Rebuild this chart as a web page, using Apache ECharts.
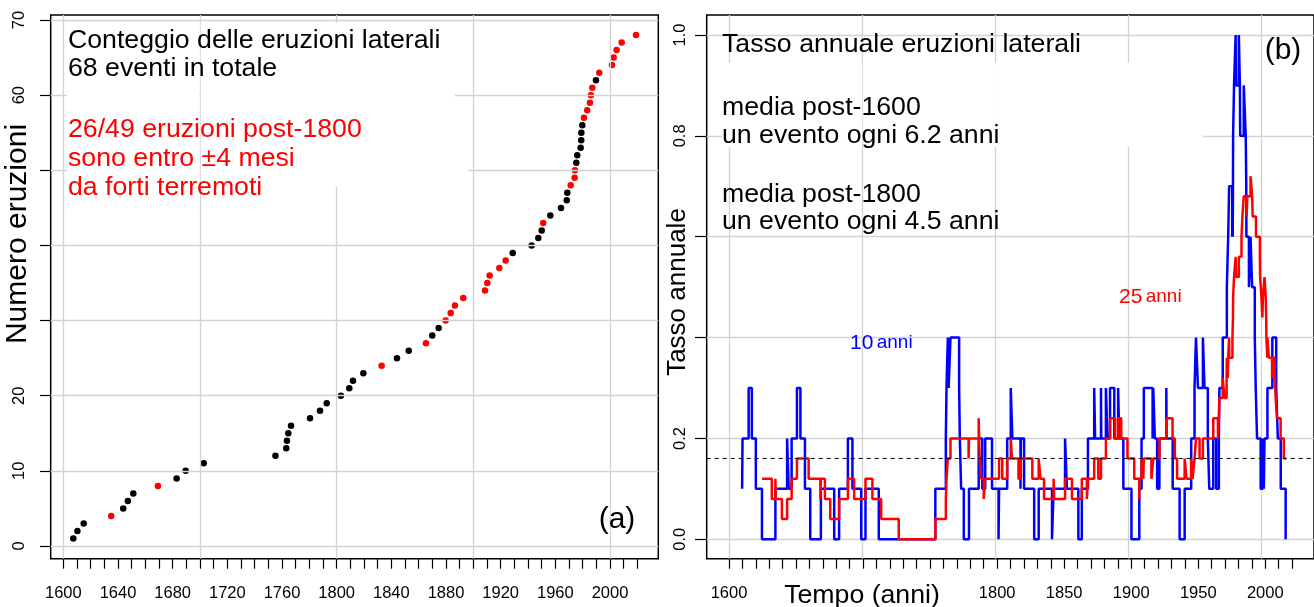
<!DOCTYPE html>
<html>
<head>
<meta charset="utf-8">
<script src="https://cdn.jsdelivr.net/npm/echarts@6/dist/echarts.min.js"></script>
<style>
  html, body { margin: 0; padding: 0; background: #fff; }
  #main { width: 1314px; height: 607px; }
</style>
</head>
<body>
<div id="main"></div>
<script>
// (a) anno di ogni eruzione laterale, in ordine (conteggio cumulativo = posizione)
const eventYears = [1607.3, 1610.3, 1614.9, 1635.0, 1643.8, 1647.2, 1651.2, 1669.2, 1682.9, 1689.5,
  1702.7, 1755.2, 1763.1, 1763.6, 1764.6, 1766.6, 1780.5, 1787.8, 1792.7, 1803.1,
  1809.2, 1811.9, 1819.5, 1832.9, 1844.1, 1852.7, 1865.3, 1869.9, 1874.6, 1879.7,
  1883.4, 1886.5, 1892.6, 1908.5, 1910.2, 1911.9, 1919.0, 1923.6, 1928.8, 1942.6,
  1947.5, 1950.0, 1951.1, 1956.3, 1964.1, 1968.3, 1968.7, 1971.2, 1974.1, 1974.3,
  1975.3, 1976.0, 1978.5, 1978.9, 1979.0, 1979.7, 1980.9, 1983.3, 1985.3, 1986.0,
  1987.0, 1989.7, 1992.1, 2001.4, 2002.6, 2004.8, 2008.5, 2019.0]
// 1 = entro ±4 mesi da un forte terremoto (rosso)
const nearQuake = [0, 0, 0, 1, 0, 0, 0, 1, 0, 0,
  0, 0, 0, 0, 0, 0, 0, 0, 0, 0,
  0, 0, 0, 1, 0, 0, 1, 0, 0, 1,
  1, 1, 1, 1, 1, 1, 1, 1, 0, 0,
  0, 0, 1, 0, 0, 0, 0, 1, 1, 1,
  0, 0, 0, 0, 0, 0, 1, 1, 1, 1,
  1, 0, 1, 1, 1, 1, 1, 1]

// (b) tasso annuale, finestra 10 anni (blu) e 25 anni (rosso), a gradini
const blueYears = [1610.0, 1610.3, 1614.9, 1617.3, 1620.3, 1624.9, 1635.0, 1643.8, 1645.0, 1647.2,
  1651.2, 1653.8, 1657.2, 1661.2, 1669.2, 1679.2, 1682.9, 1689.5, 1692.9, 1699.5,
  1702.7, 1712.7, 1755.2, 1763.1, 1763.6, 1764.6, 1765.2, 1766.6, 1773.1, 1773.6,
  1774.6, 1776.6, 1780.5, 1787.8, 1790.5, 1792.7, 1797.8, 1802.7, 1803.1, 1809.2,
  1811.9, 1813.1, 1819.2, 1819.5, 1821.9, 1829.5, 1832.9, 1842.9, 1844.1, 1852.7,
  1854.1, 1862.7, 1865.3, 1869.9, 1874.6, 1875.3, 1879.7, 1879.9, 1883.4, 1884.6,
  1886.5, 1889.7, 1892.6, 1893.4, 1896.5, 1902.6, 1908.5, 1910.2, 1911.9, 1918.5,
  1919.0, 1920.2, 1921.9, 1923.6, 1928.8, 1929.0, 1933.6, 1938.8, 1942.6, 1947.5,
  1950.0, 1951.1, 1952.6, 1956.3, 1957.5, 1960.0, 1961.1, 1964.1, 1966.3, 1968.3,
  1968.7, 1971.2, 1974.3, 1975.3, 1976.0, 1978.3, 1978.5, 1978.7, 1978.9, 1979.0,
  1979.7, 1980.9, 1981.2, 1983.3, 1984.1, 1984.3, 1987.0, 1988.5, 1988.9, 1989.0,
  1990.9, 1992.1, 1993.3, 1995.3, 1996.0, 1997.0, 1999.7, 2001.4, 2002.1, 2002.6,
  2004.8, 2008.5, 2011.4, 2012.6, 2014.8, 2018.5, 2019.0]
const blueRates = [0.1, 0.2, 0.3, 0.2, 0.1, 0.0, 0.1, 0.2, 0.1, 0.2,
  0.3, 0.2, 0.1, 0.0, 0.1, 0.0, 0.1, 0.2, 0.1, 0.0,
  0.1, 0.0, 0.1, 0.2, 0.3, 0.4, 0.3, 0.4, 0.3, 0.2,
  0.1, 0.0, 0.1, 0.2, 0.1, 0.2, 0.1, 0.0, 0.1, 0.2,
  0.3, 0.2, 0.1, 0.2, 0.1, 0.0, 0.1, 0.0, 0.1, 0.2,
  0.1, 0.0, 0.1, 0.2, 0.3, 0.2, 0.3, 0.2, 0.3, 0.2,
  0.3, 0.2, 0.3, 0.2, 0.1, 0.0, 0.1, 0.2, 0.3, 0.2,
  0.3, 0.2, 0.1, 0.2, 0.3, 0.2, 0.1, 0.0, 0.1, 0.2,
  0.3, 0.4, 0.3, 0.4, 0.3, 0.2, 0.1, 0.2, 0.1, 0.2,
  0.3, 0.4, 0.5, 0.6, 0.7, 0.6, 0.7, 0.6, 0.7, 0.8,
  0.9, 1.0, 0.9, 1.0, 0.9, 0.8, 0.9, 0.8, 0.7, 0.6,
  0.5, 0.6, 0.5, 0.4, 0.3, 0.2, 0.1, 0.2, 0.1, 0.2,
  0.3, 0.4, 0.3, 0.2, 0.1, 0.0, 0.0]
const redYears = [1625.0, 1632.3, 1635.0, 1635.3, 1639.9, 1643.8, 1647.2, 1651.2, 1660.0, 1668.8,
  1669.2, 1672.2, 1676.2, 1682.9, 1689.5, 1694.2, 1702.7, 1707.9, 1714.5, 1727.7,
  1755.2, 1763.1, 1763.6, 1764.6, 1766.6, 1780.2, 1780.5, 1787.8, 1788.1, 1788.6,
  1789.6, 1791.6, 1792.7, 1803.1, 1805.5, 1809.2, 1811.9, 1812.8, 1817.7, 1819.5,
  1828.1, 1832.9, 1834.2, 1836.9, 1844.1, 1844.5, 1852.7, 1857.9, 1865.3, 1869.1,
  1869.9, 1874.6, 1877.7, 1879.7, 1883.4, 1886.5, 1890.3, 1892.6, 1894.9, 1899.6,
  1904.7, 1908.4, 1908.5, 1910.2, 1911.5, 1911.9, 1917.6, 1919.0, 1923.6, 1928.8,
  1933.5, 1935.2, 1936.9, 1942.6, 1944.0, 1947.5, 1948.6, 1950.0, 1951.1, 1953.8,
  1956.3, 1964.1, 1967.6, 1968.3, 1968.7, 1971.2, 1972.5, 1974.1, 1974.3, 1975.0,
  1975.3, 1976.0, 1976.1, 1978.5, 1978.9, 1979.0, 1979.7, 1980.9, 1981.3, 1983.3,
  1985.3, 1986.0, 1987.0, 1989.1, 1989.7, 1992.1, 1993.3, 1993.7, 1996.2, 1999.1,
  1999.3, 2000.3, 2001.0, 2001.4, 2002.6, 2003.5, 2003.9, 2004.0, 2004.7, 2004.8,
  2005.9, 2008.3, 2008.5, 2010.3, 2011.0, 2012.0, 2014.7, 2017.1, 2019.0]
const redRates = [0.12, 0.08, 0.12, 0.08, 0.04, 0.08, 0.12, 0.16, 0.12, 0.08,
  0.12, 0.08, 0.04, 0.08, 0.12, 0.08, 0.12, 0.08, 0.04, 0.00,
  0.04, 0.08, 0.12, 0.16, 0.20, 0.16, 0.20, 0.24, 0.20, 0.16,
  0.12, 0.08, 0.12, 0.16, 0.12, 0.16, 0.20, 0.16, 0.12, 0.16,
  0.12, 0.16, 0.12, 0.08, 0.12, 0.08, 0.12, 0.08, 0.12, 0.08,
  0.12, 0.16, 0.12, 0.16, 0.20, 0.24, 0.20, 0.24, 0.20, 0.16,
  0.12, 0.08, 0.12, 0.16, 0.12, 0.16, 0.12, 0.16, 0.20, 0.24,
  0.20, 0.16, 0.12, 0.16, 0.12, 0.16, 0.12, 0.16, 0.20, 0.16,
  0.20, 0.24, 0.20, 0.24, 0.28, 0.32, 0.28, 0.32, 0.36, 0.32,
  0.36, 0.40, 0.36, 0.40, 0.44, 0.48, 0.52, 0.56, 0.52, 0.56,
  0.60, 0.64, 0.68, 0.64, 0.68, 0.72, 0.68, 0.64, 0.60, 0.56,
  0.52, 0.48, 0.44, 0.48, 0.52, 0.48, 0.44, 0.40, 0.36, 0.40,
  0.36, 0.32, 0.36, 0.32, 0.28, 0.24, 0.20, 0.16, 0.16]
const meanRate = 0.161   // un evento ogni 6.2 anni

// griglie e etichette degli assi
const leftGridX = [1600, 1700, 1800, 1900, 2000]
const leftGridY = [0, 10, 20, 30, 40, 50, 60, 70]
const leftXLabels = [1600, 1640, 1680, 1720, 1760, 1800, 1840, 1880, 1920, 1960, 2000]
const leftYLabels = [0, 10, 20, 60, 70]
const rightGridX = [1600, 1700, 1800, 1900, 2000]
const rightGridY = [0, 0.2, 0.4, 0.6, 0.8, 1.0]
const rightXLabels = [1600, 1800, 1850, 1900, 1950, 2000]
const rightYLabels = ['0.0', '0.2', '0.8', '1.0']

const FONT = 'Liberation Sans, Arial, sans-serif'
const GRID_COLOR = '#d3d3d3'

let blackPts = []
let redPts = []
eventYears.forEach(function (y, i) {
  if (nearQuake[i]) redPts.push([y, i + 1])
  else blackPts.push([y, i + 1])
})
const blueData = blueYears.map(function (t, i) { return [t, blueRates[i]] })
const redData = redYears.map(function (t, i) { return [t, redRates[i]] })

function tickAxisX(grid, labels) {
  return {
    type: 'value', gridIndex: grid, min: 1600, max: 2020, interval: 10,
    axisLine: { show: false },
    axisTick: { show: true, length: 10, lineStyle: { color: '#000', width: 1.2 } },
    axisLabel: {
      margin: 26, color: '#000', fontSize: 16.5, fontFamily: FONT,
      formatter: function (v) { return labels.indexOf(v) >= 0 ? String(v) : '' }
    },
    splitLine: { show: false }
  }
}
function hiddenAxis(grid, min, max) {
  return { type: 'value', gridIndex: grid, min: min, max: max, show: false, splitLine: { show: false } }
}
function text(x, y, str, size, color, extra) {
  return {
    type: 'text', x: x, y: y, z: 100,
    style: Object.assign({
      text: str, fill: color, font: size + 'px ' + FONT,
      textAlign: 'left', textVerticalAlign: 'middle'
    }, extra || {})
  }
}
// fondo bianco delle legende (nasconde parte della griglia)
function whiteBox(x1, y1, x2, y2) {
  return { type: 'rect', z: 8, silent: true, shape: { x: x1, y: y1, width: x2 - x1, height: y2 - y1 }, style: { fill: '#fff' } }
}

const chart = echarts.init(document.getElementById('main'))
chart.setOption({
  animation: false,
  backgroundColor: '#fff',
  grid: [
    { left: 50.7, top: 15, width: 607.6, height: 543.7, show: true, borderColor: '#000', borderWidth: 1.5 },
    { left: 63.33, top: 15, width: 574.0, height: 543.7 },
    { left: 50.7, top: 20, width: 607.6, height: 526 },
    { left: 706.7, top: 15, width: 612, height: 543.7, show: true, borderColor: '#000', borderWidth: 1.5 },
    { left: 729, top: 15, width: 563.1, height: 543.7 },
    { left: 706.7, top: 35, width: 612, height: 504.3 }
  ],
  xAxis: [
    hiddenAxis(0, 1590.76, 2035.3),
    tickAxisX(1, leftXLabels),
    hiddenAxis(2, 0, 1),
    hiddenAxis(3, 1583.37, 2039.8),
    tickAxisX(4, rightXLabels),
    hiddenAxis(5, 0, 1)
  ],
  yAxis: [
    hiddenAxis(0, -1.69, 70.67),
    hiddenAxis(1, 0, 1),
    {
      type: 'value', gridIndex: 2, min: 0, max: 70, interval: 10,
      axisLine: { show: false },
      axisTick: { show: true, length: 10.7, lineStyle: { color: '#000', width: 1.2 } },
      axisLabel: {
        rotate: 90, margin: 23, color: '#000', fontSize: 16.5, fontFamily: FONT,
        formatter: function (v) { return leftYLabels.indexOf(v) >= 0 ? String(v) : '' }
      },
      splitLine: { show: false }
    },
    hiddenAxis(3, -0.0385, 1.0396),
    hiddenAxis(4, 0, 1),
    {
      type: 'value', gridIndex: 5, min: 0, max: 1, interval: 0.2,
      axisLine: { show: false },
      axisTick: { show: true, length: 11.7, lineStyle: { color: '#000', width: 1.2 } },
      axisLabel: {
        rotate: 90, margin: 18, color: '#000', fontSize: 16.5, fontFamily: FONT,
        formatter: function (v) {
          let s = v.toFixed(1)
          return rightYLabels.indexOf(s) >= 0 ? s : ''
        }
      },
      splitLine: { show: false }
    }
  ],
  series: [
    {
      type: 'scatter', xAxisIndex: 0, yAxisIndex: 0, z: 2,
      symbol: 'circle', symbolSize: 6.5, itemStyle: { color: '#000', opacity: 1 },
      data: blackPts
    },
    {
      type: 'scatter', xAxisIndex: 0, yAxisIndex: 0, z: 2,
      symbol: 'circle', symbolSize: 6.5, itemStyle: { color: '#ff0000', opacity: 1 },
      data: redPts
    },
    {
      // griglia sopra i punti, come nell'originale
      type: 'line', xAxisIndex: 0, yAxisIndex: 0, data: [],
      markLine: {
        silent: true, symbol: 'none', z: 5, label: { show: false },
        lineStyle: { color: GRID_COLOR, width: 1.3, type: 'solid' },
        data: leftGridX.map(function (v) { return { xAxis: v } })
          .concat(leftGridY.map(function (v) { return { yAxis: v } }))
      }
    },
    {
      type: 'line', xAxisIndex: 3, yAxisIndex: 3, data: [],
      markLine: {
        silent: true, symbol: 'none', z: 1, label: { show: false },
        lineStyle: { color: GRID_COLOR, width: 1.3, type: 'solid' },
        data: rightGridX.map(function (v) { return { xAxis: v } })
          .concat(rightGridY.map(function (v) { return { yAxis: v } }))
      }
    },
    {
      type: 'line', xAxisIndex: 3, yAxisIndex: 3, z: 10, step: 'end',
      showSymbol: false, lineStyle: { color: '#0000ff', width: 2.5 },
      data: blueData
    },
    {
      type: 'line', xAxisIndex: 3, yAxisIndex: 3, z: 11, step: 'end',
      showSymbol: false, lineStyle: { color: '#ff0000', width: 2.5 },
      data: redData,
      markLine: {
        silent: true, symbol: 'none', z: 12, label: { show: false },
        lineStyle: { color: '#000', width: 1.2, type: [4, 4] },
        data: [{ yAxis: meanRate }]
      }
    }
  ],
  graphic: [
    whiteBox(67, 23, 199.3, 110), whiteBox(200.7, 23, 455, 110),
    whiteBox(67, 110, 199.3, 187), whiteBox(200.7, 110, 468, 187),
    whiteBox(722, 63, 862.3, 147), whiteBox(863.7, 63, 996.5, 147), whiteBox(997.9, 63, 1203, 147),
    text(68, 41, 'Conteggio delle eruzioni laterali', 26.7, '#000'),
    text(68, 69, '68 eventi in totale', 26.7, '#000'),
    text(68, 130, '26/49 eruzioni post-1800', 26.7, '#ff0000'),
    text(68, 159, 'sono entro ±4 mesi', 26.7, '#ff0000'),
    text(68, 188, 'da forti terremoti', 26.7, '#ff0000'),
    text(617, 520, '(a)', 30, '#000', { textAlign: 'center' }),
    text(722, 45, 'Tasso annuale eruzioni laterali', 26.7, '#000'),
    text(722, 108, 'media post-1600', 26.7, '#000'),
    text(722, 136, 'un evento ogni 6.2 anni', 26.7, '#000'),
    text(722, 195, 'media post-1800', 26.7, '#000'),
    text(722, 222, 'un evento ogni 4.5 anni', 26.7, '#000'),
    text(1283, 51, '(b)', 30, '#000', { textAlign: 'center' }),
    {
      type: 'text', x: 850, y: 343, z: 100,
      style: {
        text: '{a|10} {b|anni}', textVerticalAlign: 'middle', fill: '#0000ff',
        rich: { a: { fontSize: 21, fontFamily: FONT, fill: '#0000ff' }, b: { fontSize: 19, fontFamily: FONT, fill: '#0000ff' } }
      }
    },
    {
      type: 'text', x: 1119, y: 297, z: 100,
      style: {
        text: '{a|25} {b|anni}', textVerticalAlign: 'middle', fill: '#ff0000',
        rich: { a: { fontSize: 21, fontFamily: FONT, fill: '#ff0000' }, b: { fontSize: 19, fontFamily: FONT, fill: '#ff0000' } }
      }
    },
    text(862, 596, 'Tempo (anni)', 26.7, '#000', { textAlign: 'center' }),
    {
      type: 'text', x: 18, y: 234, rotation: Math.PI / 2, z: 100,
      style: { text: 'Numero eruzioni', fill: '#000', font: '30px ' + FONT, textAlign: 'center', textVerticalAlign: 'middle' }
    },
    {
      type: 'text', x: 678, y: 292, rotation: Math.PI / 2, z: 100,
      style: { text: 'Tasso annuale', fill: '#000', font: '26px ' + FONT, textAlign: 'center', textVerticalAlign: 'middle' }
    }
  ]
})
</script>
</body>
</html>
